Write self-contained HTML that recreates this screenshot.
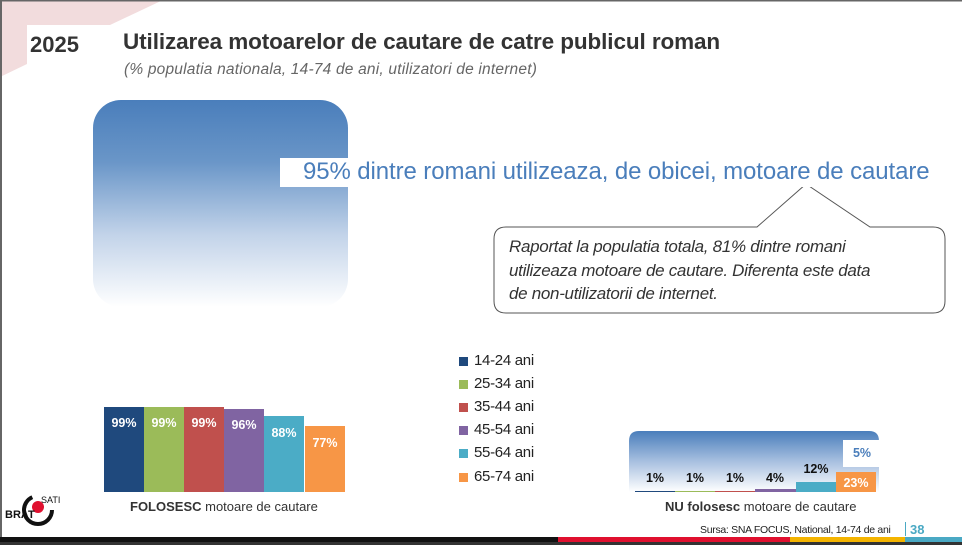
<!DOCTYPE html>
<html><head><meta charset="utf-8"><style>
body{margin:0;width:962px;height:545px;overflow:hidden;background:#fff;font-family:"Liberation Sans",sans-serif;position:relative}
div{position:absolute;white-space:nowrap}
.b{bottom:53px;width:40px}
.lab{color:#fff;font-weight:bold;font-size:12.5px;text-align:center;width:40px}
.lg{left:459px;width:9px;height:9px}
.lt{left:474px;font-size:15px;color:#222;letter-spacing:-0.3px}
.rl{font-weight:bold;font-size:12.5px;color:#111;text-align:center;width:40px;top:471px}
</style></head><body>
<svg style="position:absolute;left:0;top:0" width="962" height="545">
<polygon points="0,0 163,0 110,25 27,25 27,64 0,77" fill="#f2dcdd"/>
<rect x="0" y="0" width="962" height="1.5" fill="#666"/>
<rect x="0" y="0" width="2" height="545" fill="#666"/>
<rect x="0" y="537" width="558" height="5" fill="#111"/>
<rect x="558" y="537" width="232" height="5" fill="#e0102f"/>
<rect x="790" y="537" width="115" height="5" fill="#f4b400"/>
<rect x="905" y="537" width="57" height="5" fill="#4aa9c4"/>
<rect x="0" y="542" width="962" height="3" fill="#333"/>
<defs><linearGradient id="g" x1="0" y1="0" x2="0" y2="1"><stop offset="0" stop-color="#4a7ebb"/><stop offset="0.3" stop-color="#6a96c8"/><stop offset="0.65" stop-color="#c2d3e9"/><stop offset="1" stop-color="#ffffff"/></linearGradient>
<linearGradient id="g2" x1="0" y1="0" x2="0" y2="1"><stop offset="0" stop-color="#4a7ebb"/><stop offset="0.5" stop-color="#a8c0e0"/><stop offset="1" stop-color="#ffffff"/></linearGradient></defs>
<rect x="93" y="100" width="255" height="207" rx="28" fill="url(#g)"/>
<path d="M629,492 V441 Q629,431 639,431 H869 Q879,431 879,441 V492 Z" fill="url(#g2)"/>
<path d="M506,227 H757 L806,184 L870,227 H933 Q945,227 945,239 V301 Q945,313 933,313 H506 Q494,313 494,301 V239 Q494,227 506,227 Z" fill="#fff" stroke="#555" stroke-width="1"/>
<circle cx="38" cy="510" r="14" fill="none" stroke="#111" stroke-width="4" stroke-dasharray="60 30"/>
<circle cx="38" cy="507" r="6" fill="#e0102f"/>
</svg>
<div style="left:30px;top:32px;font-size:22px;color:#333;font-weight:bold">2025</div>
<div style="left:123px;top:29px;font-size:22.5px;color:#333;font-weight:bold;letter-spacing:-0.1px">Utilizarea motoarelor de cautare de catre publicul roman</div>
<div style="left:124px;top:61px;font-size:15.5px;font-style:italic;color:#666;letter-spacing:0.2px">(% populatia nationala, 14-74 de ani, utilizatori de internet)</div>
<div style="left:280px;top:158px;width:665px;height:29px;background:#fff"></div>
<div style="left:303px;top:158px;font-size:24px;color:#4a7ebb;letter-spacing:-0.1px">95% dintre romani utilizeaza, de obicei, motoare de cautare</div>
<div style="left:509px;top:235px;font-size:17px;font-style:italic;color:#333;line-height:23.5px;letter-spacing:-0.3px">Raportat la populatia totala, 81% dintre romani<br>utilizeaza motoare de cautare. Diferenta este data<br>de non-utilizatorii de internet.</div>
<div class="b" style="left:104px;top:407px;background:#1f497d"></div>
<div class="b" style="left:144px;top:407px;background:#9bbb59"></div>
<div class="b" style="left:184px;top:407px;background:#c0504d"></div>
<div class="b" style="left:224px;top:409px;background:#8064a2"></div>
<div class="b" style="left:264px;top:416px;background:#4bacc6"></div>
<div class="b" style="left:305px;top:426px;background:#f79646"></div>
<div class="lab" style="left:104px;top:416px">99%</div>
<div class="lab" style="left:144px;top:416px">99%</div>
<div class="lab" style="left:184px;top:416px">99%</div>
<div class="lab" style="left:224px;top:418px">96%</div>
<div class="lab" style="left:264px;top:426px">88%</div>
<div class="lab" style="left:305px;top:436px">77%</div>
<div style="left:130px;top:499px;font-size:13px;color:#333"><b>FOLOSESC</b> motoare de cautare</div>
<div style="left:5px;top:509px;font-size:11px;font-weight:bold;color:#111">BRAT</div>
<div style="left:41px;top:495px;font-size:9px;color:#111">SATI</div>
<div class="lg" style="top:357px;background:#1f497d"></div><div class="lt" style="top:352px">14-24 ani</div>
<div class="lg" style="top:380px;background:#9bbb59"></div><div class="lt" style="top:375px">25-34 ani</div>
<div class="lg" style="top:403px;background:#c0504d"></div><div class="lt" style="top:398px">35-44 ani</div>
<div class="lg" style="top:426px;background:#8064a2"></div><div class="lt" style="top:421px">45-54 ani</div>
<div class="lg" style="top:449px;background:#4bacc6"></div><div class="lt" style="top:444px">55-64 ani</div>
<div class="lg" style="top:473px;background:#f79646"></div><div class="lt" style="top:468px">65-74 ani</div>
<div style="left:635px;top:491px;width:40px;height:1px;background:#1f497d"></div>
<div style="left:675px;top:491px;width:40px;height:1px;background:#9bbb59"></div>
<div style="left:715px;top:491px;width:40px;height:1px;background:#c0504d"></div>
<div style="left:755px;top:489px;width:41px;height:3px;background:#8064a2"></div>
<div style="left:796px;top:482px;width:40px;height:10px;background:#4bacc6"></div>
<div style="left:836px;top:472px;width:40px;height:20px;background:#f79646"></div>
<div style="left:843px;top:440px;width:36px;height:27px;background:#fff"></div>
<div class="rl" style="left:635px">1%</div>
<div class="rl" style="left:675px">1%</div>
<div class="rl" style="left:715px">1%</div>
<div class="rl" style="left:755px">4%</div>
<div class="rl" style="left:796px;top:462px">12%</div>
<div class="rl" style="left:842px;top:446px;color:#4a7ebb">5%</div>
<div class="rl" style="left:836px;top:476px;color:#fff">23%</div>
<div style="left:665px;top:499px;font-size:13px;color:#333"><b>NU folosesc</b> motoare de cautare</div>
<div style="left:700px;top:524px;font-size:10.5px;color:#222;letter-spacing:-0.3px">Sursa: SNA FOCUS, National, 14-74 de ani</div>
<div style="left:905px;top:522px;width:1px;height:14px;background:#4aa9c4"></div>
<div style="left:910px;top:522px;font-size:13px;font-weight:bold;color:#4aa9c4">38</div>
</body></html>
